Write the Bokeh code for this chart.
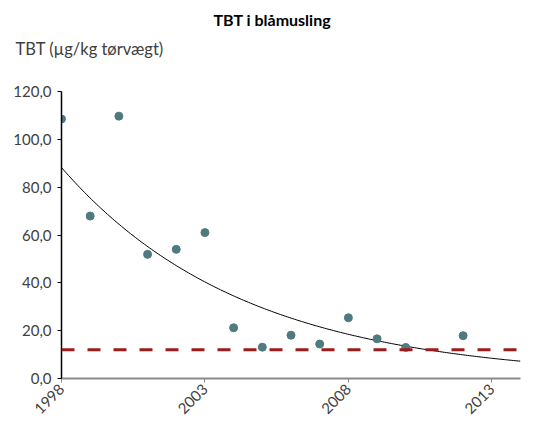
import numpy as np
from bokeh.plotting import figure
from bokeh.models import Title, Range1d, FixedTicker, Span
from bokeh.embed import file_html
from bokeh.resources import INLINE

title_text = "TBT i blåmusling"
ylabel_text = "TBT (µg/kg tørvægt)"
years = [1998, 1999, 2000, 2001, 2002, 2003, 2004, 2005, 2006, 2007, 2008, 2009, 2010, 2012]
tbt = [108.5, 67.9, 109.7, 51.9, 54.0, 61.0, 21.2, 13.1, 18.1, 14.4, 25.4, 16.6, 13.0, 17.9]
target_level = 12.0
x_ticks = [1998, 2003, 2008, 2013]
y_ticks = [0, 20, 40, 60, 80, 100, 120]
y_tick_labels = ["0,0", "20,0", "40,0", "60,0", "80,0", "100,0", "120,0"]

FONT = "Lato"
TXT = "#404040"

p = figure(width=526, height=421, output_backend="svg", toolbar_location=None,
           x_range=Range1d(1998, 2014), y_range=Range1d(0, 120),
           min_border_left=61, min_border_right=6, min_border_bottom=34, min_border_top=0)
p.outline_line_color = None
p.xgrid.grid_line_color = None
p.ygrid.grid_line_color = None

# exponential trendline fitted to the data (least squares on log values)
t = np.array(years, dtype=float) - years[0]
b, a = np.polyfit(t, np.log(tbt), 1)
xs = np.linspace(1998, 2014, 200)
ys = np.exp(a + b * (xs - years[0]))
p.line(xs, ys, line_color="black", line_width=1)

p.add_layout(Span(location=target_level, dimension="width", line_color="#9e1b1b",
                  line_width=3, line_dash="13 13"))

p.scatter(years, tbt, size=8, fill_color="#4f7a80", line_color="#4f7a80")

# axes
p.xaxis.ticker = FixedTicker(ticks=x_ticks)
p.xaxis.major_label_orientation = np.pi / 4
p.xaxis.axis_line_color = "#8a8a8a"
p.xaxis.axis_line_width = 2
p.xaxis.major_tick_line_color = "#8a8a8a"
p.xaxis.major_tick_out = 4
p.xaxis.major_tick_in = 0
p.xaxis.minor_tick_line_color = None
p.xaxis.major_label_text_font = FONT
p.xaxis.major_label_text_font_size = "15px"
p.xaxis.major_label_text_color = TXT
p.xaxis.major_label_standoff = 4

p.yaxis.ticker = FixedTicker(ticks=y_ticks)
p.yaxis.major_label_overrides = {v: s for v, s in zip(y_ticks, y_tick_labels)}
p.yaxis.axis_line_color = "black"
p.yaxis.axis_line_width = 1.5
p.yaxis.major_tick_line_color = "black"
p.yaxis.major_tick_out = 4
p.yaxis.major_tick_in = 0
p.yaxis.minor_tick_line_color = None
p.yaxis.major_label_text_font = FONT
p.yaxis.major_label_text_font_size = "15px"
p.yaxis.major_label_text_color = TXT
p.yaxis.major_label_standoff = 6

# titles (added closest-to-plot first)
p.add_layout(Title(text=" ", text_font_size="1px", standoff=29), "above")
p.add_layout(Title(text=ylabel_text, align="left", offset=-46, text_font=FONT,
                   text_font_size="16.5px", text_font_style="normal", text_color=TXT,
                   standoff=1), "above")
p.add_layout(Title(text=title_text, align="left", offset=152, text_font=FONT,
                   text_font_size="16px", text_font_style="bold", text_color="black",
                   standoff=15), "above")

open("out.html", "w").write(file_html(p, INLINE))
